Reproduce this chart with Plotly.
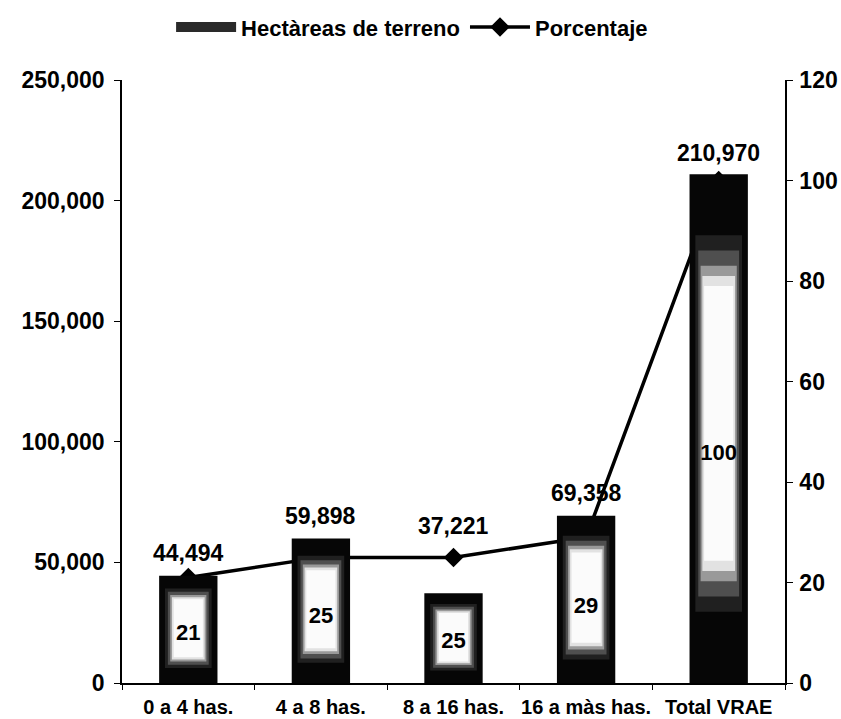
import plotly.graph_objects as go

# ---- data ----
categories = ["0 a 4 has.", "4 a 8 has.", "8 a 16 has.", "16 a màs has.", "Total VRAE"]
hectareas = [44494, 59898, 37221, 69358, 210970]
porcentaje = [21, 25, 25, 29, 100]
hectareas_labels = ["44,494", "59,898", "37,221", "69,358", "210,970"]
porcentaje_labels = ["21", "25", "25", "29", "100"]

# ---- style ----
FONT = "Liberation Sans"
bar_width = 0.44
# layers imitating the dark-edged, light-centred fill:
# (width factor, top inset fraction, bottom inset fraction, colour)
layers = [
    (1.00, 0.00, 0.00, "#060606"),
    (0.80, 0.12, 0.14, "#202020"),
    (0.70, 0.15, 0.17, "#4f4f4f"),
    (0.62, 0.18, 0.20, "#999999"),
    (0.56, 0.20, 0.22, "#e2e2e2"),
    (0.50, 0.22, 0.24, "#fbfbfb"),
]
label_shift = [8, 8, 52, 8, 6]

fig = go.Figure()

# line on primary y (right side) so that it is drawn beneath the bars
fig.add_trace(go.Scatter(
    x=categories, y=porcentaje, name="Porcentaje", mode="lines+markers",
    line=dict(color="black", width=3.5),
    marker=dict(symbol="diamond", size=15, color="black"),
    yaxis="y", legendrank=2,
))

for i, (wf, top, bot, col) in enumerate(layers):
    fig.add_trace(go.Bar(
        x=categories,
        y=[v * (1 - top - bot) for v in hectareas],
        base=[v * bot for v in hectareas],
        width=bar_width * wf,
        marker=dict(color=col, line=dict(width=0)),
        name="Hectàreas de terreno",
        legendgroup="hect",
        showlegend=False,
        yaxis="y2",
    ))

# legend entry for the bars (wide swatch)
fig.add_trace(go.Scatter(
    x=[None], y=[None], mode="lines", name="Hectàreas de terreno",
    legendgroup="hect", line=dict(color="#2a2a2a", width=15),
    yaxis="y2", legendrank=1,
))

# percentage labels inside the bars
fig.add_trace(go.Scatter(
    x=categories, y=[v * 0.45 for v in hectareas], text=porcentaje_labels,
    mode="text", textfont=dict(family=FONT, size=22, color="black", weight="bold"),
    showlegend=False, yaxis="y2", hoverinfo="skip",
))

annotations = []
for c, v, t, s in zip(categories, hectareas, hectareas_labels, label_shift):
    annotations.append(dict(x=c, y=v, xref="x", yref="y2", text=t, showarrow=False,
                            yanchor="bottom", yshift=s,
                            font=dict(family=FONT, size=23, color="black", weight="bold")))

fig.update_layout(
    width=841, height=719,
    paper_bgcolor="white", plot_bgcolor="white",
    margin=dict(l=122, r=56, t=80, b=36, autoexpand=False),
    barmode="overlay",
    showlegend=True,
    legend=dict(orientation="h", x=0.49, xref="container", xanchor="center",
                y=0.962, yref="container", yanchor="middle", itemwidth=60,
                font=dict(family=FONT, size=22, color="black", weight="bold"),
                bgcolor="rgba(0,0,0,0)", tracegroupgap=0),
    xaxis=dict(type="category", range=[-0.5, 4.5], showline=True, linecolor="black", linewidth=1.5,
               ticks="outside", tickson="boundaries", ticklen=5, tickcolor="black", tickangle=0,
               ticklabelstandoff=5,
               showgrid=False, tickfont=dict(family=FONT, size=20, color="black", weight="bold")),
    yaxis=dict(side="right", range=[0, 120], dtick=20, showline=True, linecolor="black", linewidth=1.5,
               ticks="outside", ticklen=6, tickcolor="black", showgrid=False, zeroline=False,
               ticklabelstandoff=2,
               tickfont=dict(family=FONT, size=23, color="black", weight="bold")),
    yaxis2=dict(side="left", overlaying="y", range=[0, 250000], dtick=50000, tickformat=",",
                showline=True, linecolor="black", linewidth=1.5, ticks="outside", ticklen=6,
                tickcolor="black", showgrid=False, zeroline=False, ticklabelstandoff=5,
                tickfont=dict(family=FONT, size=23, color="black", weight="bold")),
    annotations=annotations,
)

fig.write_html("out.html", config={"displayModeBar": False},
               post_script="document.body.style.margin='0px';")
